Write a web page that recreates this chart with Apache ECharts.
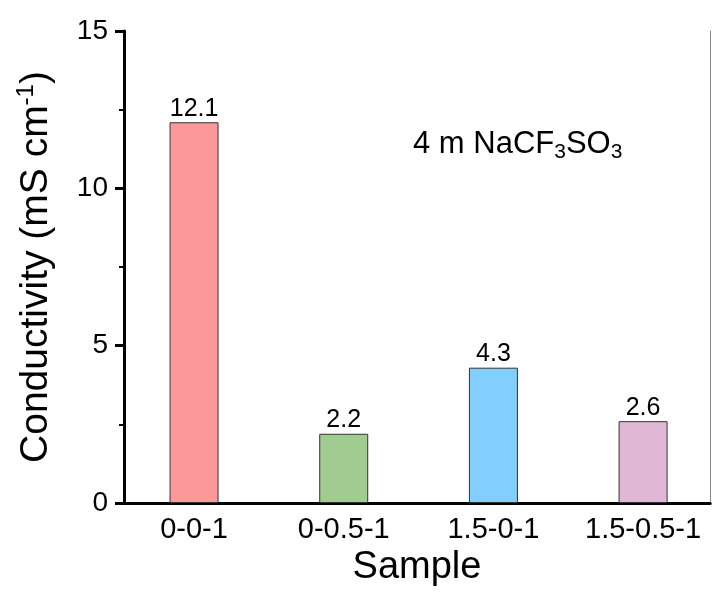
<!DOCTYPE html>
<html>
<head>
<meta charset="utf-8">
<script src="https://cdn.jsdelivr.net/npm/echarts@6/dist/echarts.min.js"></script>
<style>
  html, body { margin: 0; padding: 0; background: #fff; }
  #chart { width: 712px; height: 592px; }
</style>
</head>
<body>
<div id="chart"></div>
<script>
// Ionic conductivity of the electrolyte samples
const categories = ['0-0-1', '0-0.5-1', '1.5-0-1', '1.5-0.5-1'];
const positions = [1, 2, 3, 4];
const conductivity = [12.1, 2.2, 4.3, 2.6];
const barColors = ['#FC9898', '#A0CC91', '#82CFFF', '#E1B7D6'];
const yTicks = [0, 5, 10, 15];

const FONT = '"Liberation Sans", Arial, Helvetica, sans-serif';

const chart = echarts.init(document.getElementById('chart'), null, { renderer: 'canvas' });

const barData = positions.map((x, i) => ({
  value: [x, conductivity[i]],
  itemStyle: { color: barColors[i] }
}));

const option = {
  backgroundColor: '#ffffff',
  textStyle: { fontFamily: FONT },
  grid: { left: 124, right: 2, top: 31, bottom: 89 },
  xAxis: [
    {
      type: 'value',
      min: 0.532,
      max: 4.447,
      position: 'bottom',
      axisLine: { show: true, lineStyle: { color: '#000', width: 3 } },
      axisTick: { show: false },
      splitLine: { show: false },
      axisLabel: {
        customValues: positions,
        formatter: v => categories[Math.round(v) - 1] || '',
        color: '#000',
        fontSize: 29,
        fontFamily: FONT,
        margin: 12
      },
      name: 'Sample',
      nameLocation: 'middle',
      nameGap: 45,
      nameTextStyle: { color: '#000', fontSize: 38, fontFamily: FONT }
    },
    {
      type: 'value',
      min: 0.532,
      max: 4.447,
      position: 'top',
      axisLine: { show: true, lineStyle: { color: '#000', width: 3 } },
      axisTick: { show: false },
      axisLabel: { show: false },
      splitLine: { show: false }
    }
  ],
  yAxis: [
    {
      type: 'value',
      min: 0,
      max: 15,
      interval: 5,
      position: 'left',
      axisLine: { show: true, lineStyle: { color: '#000', width: 3 } },
      axisTick: { show: true, inside: false, length: 9, lineStyle: { color: '#000', width: 3 } },
      minorTick: { show: true, splitNumber: 2, length: 5, lineStyle: { color: '#000', width: 2 } },
      splitLine: { show: false },
      axisLabel: {
        customValues: yTicks,
        color: '#000',
        fontSize: 28,
        fontFamily: FONT,
        margin: 16
      },
      name: '{a|Conductivity (mS cm}{s|-1}{a|)}',
      nameLocation: 'middle',
      nameGap: 66,
      nameTextStyle: {
        color: '#000',
        fontFamily: FONT,
        rich: {
          a: { fontSize: 39, fontFamily: FONT, color: '#000', lineHeight: 44 },
          s: { fontSize: 24, fontFamily: FONT, color: '#000', verticalAlign: 'top', lineHeight: 44 }
        }
      }
    },
    {
      type: 'value',
      min: 0,
      max: 15,
      position: 'right',
      axisLine: { show: true, lineStyle: { color: '#8a8a8a', width: 1 } },
      axisTick: { show: false },
      axisLabel: { show: false },
      splitLine: { show: false }
    }
  ],
  graphic: [
    {
      type: 'text',
      left: 413,
      top: 129,
      style: {
        text: '{m|4 m NaCF}{s|3}{m|SO}{s|3}',
        fontFamily: FONT,
        rich: {
          m: { fontSize: 31, fontFamily: FONT, fill: '#000', lineHeight: 36, verticalAlign: 'middle' },
          s: { fontSize: 21, fontFamily: FONT, fill: '#000', lineHeight: 36, verticalAlign: 'bottom' }
        }
      }
    }
  ],
  series: [
    {
      type: 'bar',
      xAxisIndex: 0,
      yAxisIndex: 0,
      barWidth: 49,
      data: barData,
      itemStyle: { borderColor: '#333333', borderWidth: 1 },
      label: {
        show: true,
        position: 'top',
        distance: 1,
        color: '#000',
        fontSize: 25,
        fontFamily: FONT,
        formatter: p => p.value[1].toFixed(1)
      },
      animation: false
    }
  ],
  animation: false
};

chart.setOption(option);
</script>
</body>
</html>
